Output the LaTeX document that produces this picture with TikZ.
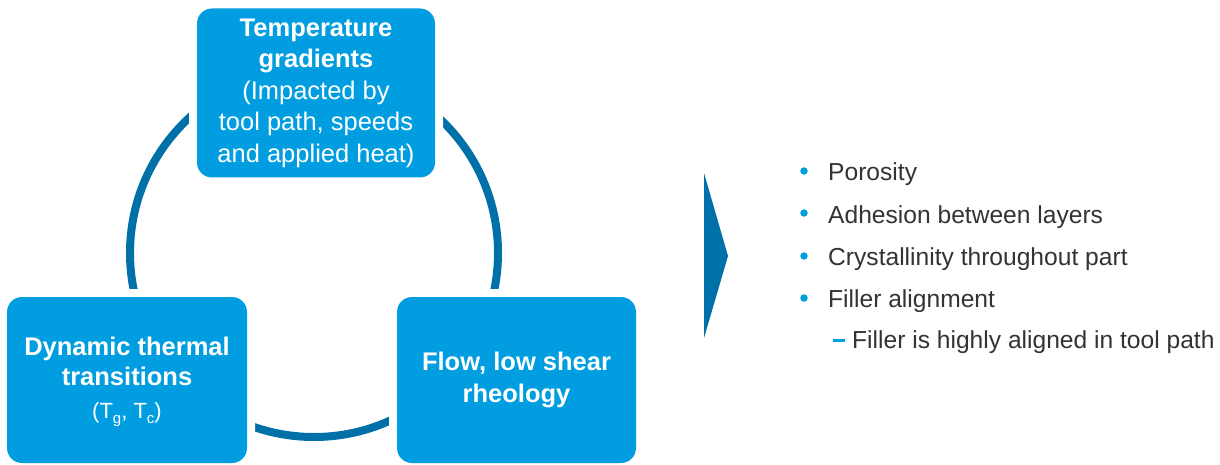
\documentclass[tikz,border=0pt]{standalone}
\usepackage{fontspec}
\setmainfont{Liberation Sans}
\definecolor{boxblue}{RGB}{0,158,224}
\definecolor{darkblue}{RGB}{0,112,168}
\definecolor{txtgray}{RGB}{51,51,51}
\newcommand{\subtxt}[1]{\raisebox{-5pt}[0pt][0pt]{\fontsize{15}{15}\selectfont #1}}
\begin{document}
\begin{tikzpicture}[x=1pt,y=-1pt,
  box/.style={fill=boxblue, rounded corners=15pt, preaction={draw=white,line width=16pt},
    text=white, align=center, inner sep=0pt, font=\fontsize{25.5}{31.5}\selectfont},
  item/.style={anchor=base west, inner sep=0pt, text=txtgray, font=\fontsize{24.6}{28}\selectfont},
  dot/.style={circle, fill=boxblue, inner sep=0pt, minimum size=7.5pt}]
\useasboundingbox (0,0) rectangle (1220,465);
\node[circle, draw=darkblue, line width=8pt, minimum size=368pt, inner sep=0pt] (ring) at (314,253) {};
\node[box, minimum width=238pt, minimum height=169pt] (top) at (316,93)
  {\textbf{Temperature}\\\textbf{gradients}\\(Impacted by\\tool path, speeds\\and applied heat)};
\node[box, minimum width=240pt, minimum height=166pt] (left) at (127,380)
  {\textbf{Dynamic thermal}\\[-1.5pt]\textbf{transitions}\\[1pt]{\fontsize{22}{26}\selectfont (T\subtxt{g}, T\subtxt{c})}};
\node[box, minimum width=239pt, minimum height=166pt] (right) at (516.5,380)
  {\textbf{Flow, low shear}\\\textbf{rheology}};
\coordinate (chtop) at (704,173);
\coordinate (chtip) at (728,256);
\coordinate (chbot) at (704,338);
\fill[darkblue] (chtop) -- (chtip) -- (chbot) -- cycle;
\node[dot] (d1) at (804,171) {};
\node[dot] (d2) at (804,213) {};
\node[dot] (d3) at (804,256) {};
\node[dot] (d4) at (804,298) {};
\node[item] (t1) at (828,181) {Porosity};
\node[item] (t2) at (828,223) {Adhesion between layers};
\node[item] (t3) at (828,265) {Crystallinity throughout part};
\node[item] (t4) at (828,307) {Filler alignment};
\coordinate (da) at (833,340);
\coordinate (db) at (845,340);
\draw[boxblue, line width=3pt] (da) -- (db);
\node[item] (t5) at (852,348) {Filler is highly aligned in tool path};
\end{tikzpicture}
\end{document}
